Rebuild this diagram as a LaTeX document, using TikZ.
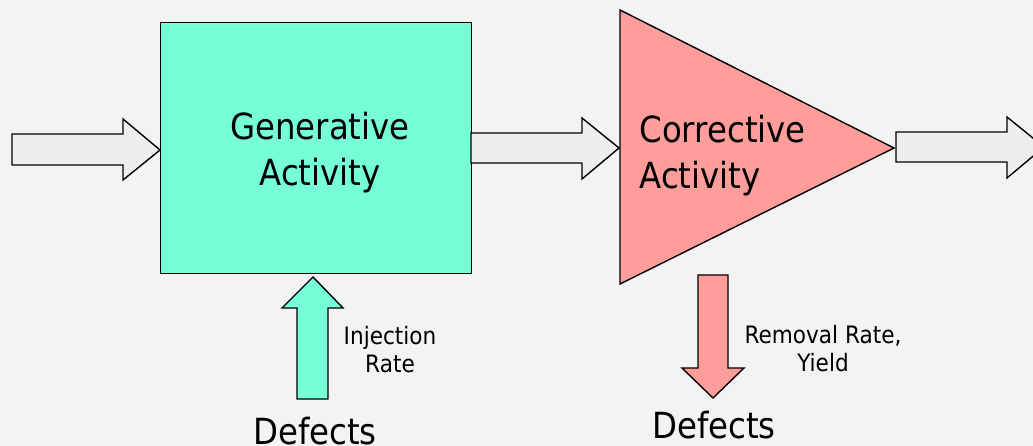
\documentclass[tikz,border=0pt]{standalone}
\usepackage{fontspec}
\setmainfont{DejaVu Sans}[FakeStretch=0.9]
\definecolor{bgc}{HTML}{F3F3F3}
\definecolor{arrc}{HTML}{EEEEEE}
\definecolor{genc}{HTML}{76FFD7}
\definecolor{corc}{HTML}{FF9D9B}
\begin{document}
\begin{tikzpicture}[x=1pt,y=-1pt,
        blk/.style={draw=black,line width=1.4pt,line join=miter},
        big/.style={font=\fontsize{36}{46}\selectfont},
        note/.style={font=\fontsize{24}{28}\selectfont,align=center}]
        \fill[bgc](0,0)rectangle(1033,446);
        \useasboundingbox(0,0)rectangle(1033,446);
        \clip(0,0)rectangle(1033,446);

        % blocks
        \node[blk,fill=genc,minimum width=311,minimum height=251,anchor=north west](gen)at(160,22){};
        \draw[blk,fill=corc](620,10)--(894,148)--(620,284)--cycle;
        \node[big,align=center](gentxt)at(320,153){Generative\\Activity};
        \node[big,align=left,anchor=west](cortxt)at(636,156){Corrective\\Activity};

        % flow arrows
        \draw[blk,fill=arrc](12,134)--(123,134)--(123,119)--(160,150)--(123,180)--(123,165)--(12,165)--cycle;
        \draw[blk,fill=arrc](471,133)--(582,133)--(582,118)--(619,148)--(582,179)--(582,163)--(471,163)--cycle;
        \draw[blk,fill=arrc](896,132)--(1007,132)--(1007,117)--(1044,147)--(1007,178)--(1007,162)--(896,162)--cycle;

        % defect arrows
        \draw[blk,fill=genc](297,399)--(297,308)--(282,308)--(313,277)--(343,308)--(328,308)--(328,399)--cycle;
        \draw[blk,fill=corc](698,275)--(728,275)--(728,368)--(744,368)--(713,398)--(682,368)--(698,368)--cycle;

        \node[note](inj)at(390,350){Injection\\Rate};
        \node[note](rem)at(823,349){Removal Rate,\\Yield};
        \node[big](def1)at(315,431){Defects};
        \node[big](def2)at(714,425){Defects};
    \end{tikzpicture}
\end{document}
